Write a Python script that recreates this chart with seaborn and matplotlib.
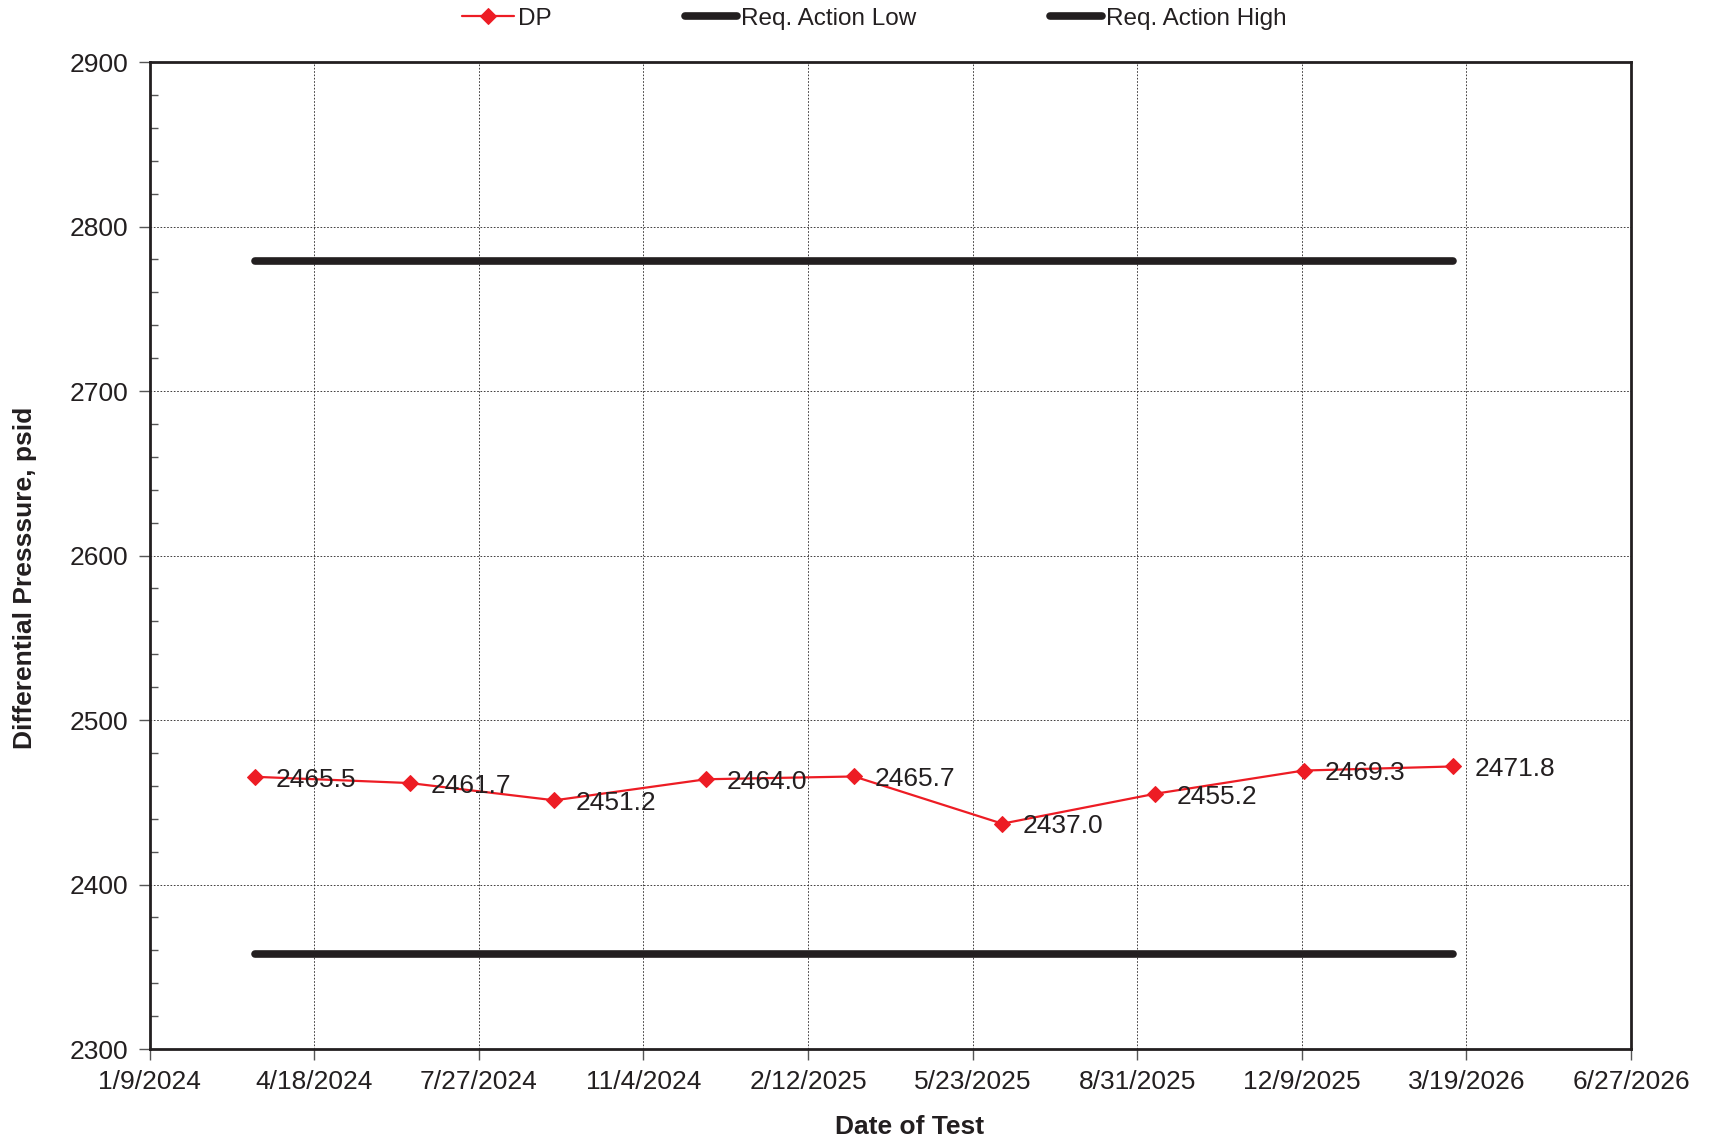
import datetime as dt
import pandas as pd
import seaborn as sns
import matplotlib.pyplot as plt
import matplotlib.dates as mdates
from matplotlib.ticker import MultipleLocator

# test dates and measured differential pressure
test_dates = ["2024-03-13", "2024-06-15", "2024-09-11", "2024-12-12", "2025-03-12",
              "2025-06-10", "2025-09-11", "2025-12-10", "2026-03-11"]
dp_values = [2465.5, 2461.7, 2451.2, 2464.0, 2465.7, 2437.0, 2455.2, 2469.3, 2471.8]

# action limits
limit_dates = ["2024-03-13", "2026-03-11"]
req_low = [2358, 2358]
req_high = [2779, 2779]

# x axis ticks every 100 days
tick_start = dt.date(2024, 1, 9)
tick_dates = [tick_start + dt.timedelta(days=100 * i) for i in range(10)]
tick_labels = [f"{d.month}/{d.day}/{d.year}" for d in tick_dates]

df = pd.DataFrame({"date": pd.to_datetime(test_dates), "DP": dp_values})
lim = pd.DataFrame({"date": pd.to_datetime(limit_dates), "low": req_low, "high": req_high})

sns.set_theme(style="white")
plt.rcParams['font.family'] = ['Liberation Sans', 'DejaVu Sans']

fig = plt.figure(figsize=(17.11, 11.41), dpi=100)
ax = fig.add_axes([0.0874, 0.0806, 0.8659, 0.865])

sns.lineplot(data=df, x="date", y="DP", ax=ax, color="#ed1c24", linewidth=1.6,
             marker="D", markersize=8.5, markeredgecolor="#ed1c24", label="DP")
sns.lineplot(data=lim, x="date", y="low", ax=ax, color="#231f20", linewidth=5.5,
             solid_capstyle="round", label="Req. Action Low")
sns.lineplot(data=lim, x="date", y="high", ax=ax, color="#231f20", linewidth=5.5,
             solid_capstyle="round", label="Req. Action High")

# value labels next to each point
for d, v in zip(df["date"], df["DP"]):
    ax.annotate(f"{v:.1f}", (d, v), xytext=(15, -2), textcoords="offset points",
                va="center", ha="left", fontsize=19, color="#231f20")

ax.set_ylim(2300, 2900)
ax.yaxis.set_major_locator(MultipleLocator(100))
ax.yaxis.set_minor_locator(MultipleLocator(20))
ax.set_xlim(mdates.date2num(tick_dates[0]), mdates.date2num(tick_dates[-1]))
ax.set_xticks([mdates.date2num(d) for d in tick_dates])
ax.set_xticklabels(tick_labels)

ax.grid(True, which="major", color="#231f20", linestyle=(0, (2, 2)), linewidth=0.6)
for s in ax.spines.values():
    s.set_color("#231f20")
    s.set_linewidth(2)

ax.tick_params(axis="both", which="major", direction="out", length=8, width=1,
               color="#555555", labelsize=19, labelcolor="#231f20", pad=7)
ax.tick_params(axis="y", which="minor", direction="in", length=6, width=1,
               color="#555555", left=True)
ax.tick_params(axis="x", which="major", bottom=True)
ax.tick_params(axis="y", which="major", left=True)

ax.set_xlabel("Date of Test", fontsize=19, fontweight="bold", color="#231f20", labelpad=15)
ax.set_ylabel("Differential Presssure, psid", fontsize=19, fontweight="bold",
              color="#231f20", labelpad=24)
ax.xaxis.label.set_x(0.513)
ax.yaxis.label.set_y(0.477)

ax.legend(loc="center", bbox_to_anchor=(0.489, 1.044), ncol=3, frameon=False,
          fontsize=17.5, handlelength=2.15, handletextpad=0.15, columnspacing=5.5,
          labelcolor="#231f20")

plt.savefig("out.png", dpi=100)
plt.close()
